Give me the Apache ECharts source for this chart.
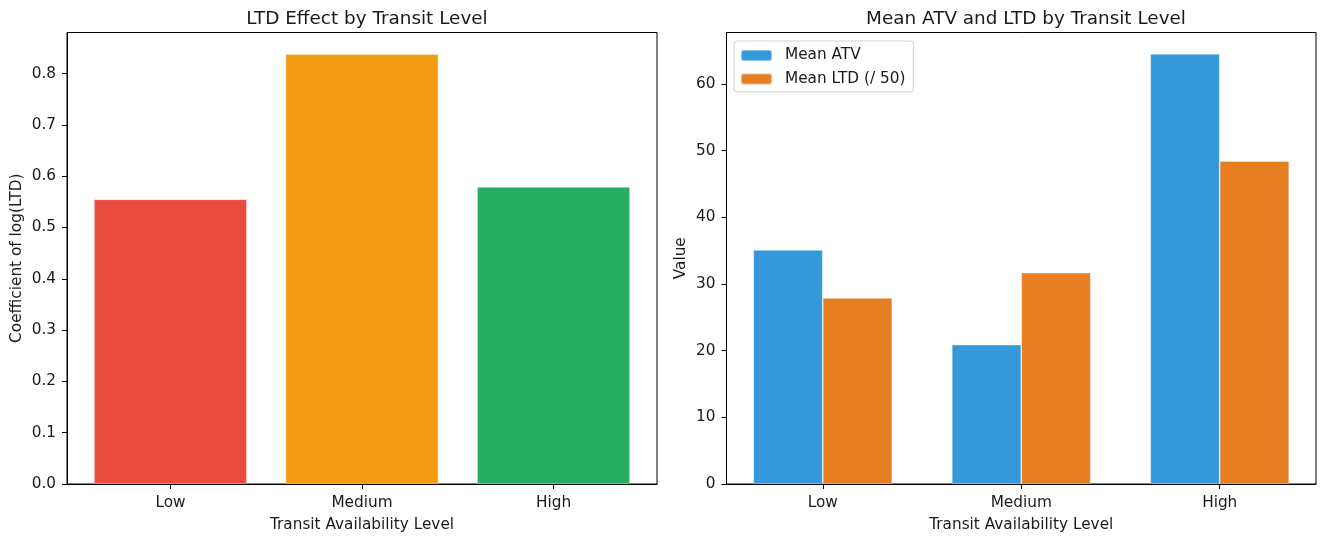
<!DOCTYPE html>
<html>
<head>
<meta charset="utf-8">
<title>Transit Level</title>
<script src="https://cdn.jsdelivr.net/npm/echarts@6/dist/echarts.min.js"></script>
<style>
  html, body { margin: 0; padding: 0; background: #fff; }
  #chart { width: 1326px; height: 541px; }
</style>
</head>
<body>
<div id="chart"></div>
<script>
// data
var levels = ['Low', 'Medium', 'High'];
var coefLTD = [0.555, 0.838, 0.579];
var coefColors = ['#e74c3c', '#f39c12', '#27ae60'];
var meanATV = [35.1, 20.9, 64.5];
var meanLTD50 = [27.9, 31.7, 48.4];
var leftTicks = [0, 0.1, 0.2, 0.3, 0.4, 0.5, 0.6, 0.7, 0.8];
var rightTicks = [0, 10, 20, 30, 40, 50, 60];

var font = 'DejaVu Sans';
var ink = '#1a1a1a';
var fs = 15.3;
var levelIdx = levels.map(function (l, i) { return i; });

// x axis is a value axis so the bars sit where matplotlib puts them (with margins)
function xAxisCfg(gridIndex, min, max) {
    return {
        type: 'value', gridIndex: gridIndex, min: min, max: max,
        name: 'Transit Availability Level', nameLocation: 'middle', nameGap: 34,
        nameTextStyle: { fontFamily: font, fontSize: fs, color: ink },
        axisLine: { show: true, onZero: false, lineStyle: { color: '#000', width: 1 } },
        axisTick: { show: true, length: 5, customValues: levelIdx, lineStyle: { color: '#000' } },
        axisLabel: {
            customValues: levelIdx, margin: 12,
            fontFamily: font, fontSize: fs, color: ink,
            formatter: function (v) { return levels[Math.round(v)]; }
        },
        splitLine: { show: false }
    };
}

function yAxisCfg(gridIndex, max, ticks, name, digits, gap) {
    return {
        type: 'value', gridIndex: gridIndex, min: 0, max: max,
        name: name, nameLocation: 'middle', nameGap: gap, nameRotate: 90,
        nameTextStyle: { fontFamily: font, fontSize: fs, color: ink },
        axisLine: { show: true, onZero: false, lineStyle: { color: '#000', width: 1 } },
        axisTick: { show: true, length: 5, customValues: ticks, lineStyle: { color: '#000' } },
        axisLabel: {
            customValues: ticks, margin: 11,
            fontFamily: font, fontSize: fs, color: ink,
            formatter: function (v) { return v.toFixed(digits); }
        },
        splitLine: { show: false }
    };
}

var edge = { borderColor: 'rgba(255,255,255,0.45)', borderWidth: 0.8 };

var chart = echarts.init(document.getElementById('chart'), null, { renderer: 'canvas' });

var option = {
    backgroundColor: '#fff',
    animation: false,
    title: [
        { text: 'LTD Effect by Transit Level', left: 362, top: 5, textAlign: 'center',
          textStyle: { fontFamily: font, fontSize: 18.4, fontWeight: 'normal', color: ink } },
        { text: 'Mean ATV and LTD by Transit Level', left: 1021, top: 5, textAlign: 'center',
          textStyle: { fontFamily: font, fontSize: 18.4, fontWeight: 'normal', color: ink } }
    ],
    legend: {
        orient: 'vertical', left: 734, top: 41,
        padding: [6.5, 8, 5, 6],
        itemWidth: 31, itemHeight: 11, itemGap: 7.4,
        backgroundColor: 'rgba(255,255,255,0.8)',
        borderColor: '#d0d0d0', borderWidth: 1, borderRadius: 3,
        textStyle: { fontFamily: font, fontSize: fs, lineHeight: 16, color: ink, padding: [0, 0, 0, 8] },
        data: ['Mean ATV', 'Mean LTD (/ 50)']
    },
    grid: [
        { left: 67, top: 32.5, width: 590, height: 451.5, show: true, borderColor: '#000', borderWidth: 1, backgroundColor: 'transparent' },
        { left: 726.5, top: 32.5, width: 589.5, height: 451.5, show: true, borderColor: '#000', borderWidth: 1, backgroundColor: 'transparent' }
    ],
    xAxis: [
        xAxisCfg(0, -0.54, 2.54),
        xAxisCfg(1, -0.485, 2.485)
    ],
    yAxis: [
        yAxisCfg(0, 0.88, leftTicks, 'Coefficient of log(LTD)', 1, 42),
        yAxisCfg(1, 67.7, rightTicks, 'Value', 0, 38)
    ],
    series: [
        {
            type: 'bar', xAxisIndex: 0, yAxisIndex: 0, barWidth: 153,
            data: coefLTD.map(function (v, i) {
                return { value: [i, v], itemStyle: Object.assign({ color: coefColors[i] }, edge) };
            })
        },
        {
            name: 'Mean ATV', type: 'bar', xAxisIndex: 1, yAxisIndex: 1,
            barWidth: 69.5, barGap: '-100%',
            itemStyle: Object.assign({ color: '#3498db' }, edge),
            data: meanATV.map(function (v, i) { return [i - 0.175, v]; })
        },
        {
            name: 'Mean LTD (/ 50)', type: 'bar', xAxisIndex: 1, yAxisIndex: 1,
            barWidth: 69.5, barGap: '-100%',
            itemStyle: Object.assign({ color: '#e67e22' }, edge),
            data: meanLTD50.map(function (v, i) { return [i + 0.175, v]; })
        }
    ]
};

chart.setOption(option);
</script>
</body>
</html>
